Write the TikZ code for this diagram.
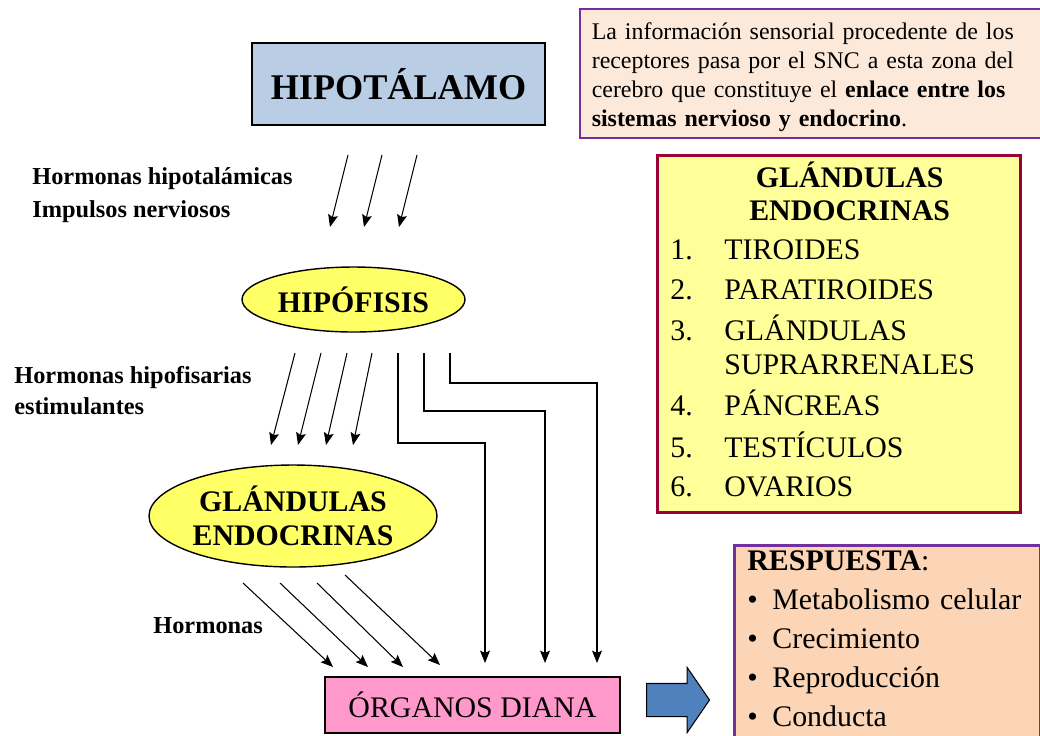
\documentclass[tikz,border=0pt]{standalone}
\usepackage{fontspec}
\setmainfont{Liberation Serif}
\usepackage{tikz}
\usetikzlibrary{shapes,arrows.meta,positioning,calc}

\definecolor{azulclaro}{HTML}{B9CDE5}
\definecolor{azulflecha}{HTML}{4F81BD}
\definecolor{amarillo}{HTML}{FFFF66}
\definecolor{amarillopalido}{HTML}{FFFF99}
\definecolor{granate}{HTML}{9C0036}
\definecolor{morado}{HTML}{7030A0}
\definecolor{salmon}{HTML}{FDE9D9}
\definecolor{melocoton}{HTML}{FBD5B5}
\definecolor{rosa}{HTML}{FF99CC}

\begin{document}
\begin{tikzpicture}[
    x=0.02cm, y=-0.02cm,
    caja/.style={rectangle, draw, line width=0.9pt, inner sep=0pt},
    glandula/.style={ellipse, draw, line width=0.8pt, fill=amarillo, inner sep=0pt,
        align=center, font=\fontsize{17}{19.3}\selectfont\bfseries},
    etiqueta/.style={anchor=base west, align=left, inner sep=0pt,
        font=\fontsize{13.85}{18.7}\selectfont\bfseries},
    flecha/.style={-{Stealth[length=7pt,width=5.6pt,inset=1.2pt]}, line width=0.6pt}
]
    \useasboundingbox (0,0) rectangle (1040,735);

    % cajas y elipses
    \node[caja, fill=azulclaro, minimum width=5.86cm, minimum height=1.64cm,
        font=\fontsize{20.6}{24}\selectfont\bfseries] (hipotalamo) at (398.5,84) {HIPOTÁLAMO};
    \node[caja, draw=morado, fill=salmon, anchor=north west, text width=8.8cm, inner xsep=0.24cm,
        minimum height=2.58cm, align=left, font=\fontsize{13.6}{16.5}\selectfont] (info) at (579,8)
        {\rule{0pt}{14pt}La información sensorial procedente de los\\ receptores pasa por el SNC a esta zona del\\
         cerebro que constituye el \textbf{enlace entre los}\\ \textbf{sistemas nervioso y endocrino}.};
    \node[glandula, minimum width=4.46cm, minimum height=1.3cm] (hipofisis) at (353.5,299.5) {HIPÓFISIS};
    \node[glandula, minimum width=5.76cm, minimum height=2.04cm] (glandulas) at (293,516) {GLÁNDULAS\\ENDOCRINAS};
    \node[caja, fill=rosa, minimum width=5.9cm, minimum height=1.12cm,
        font=\fontsize{17}{19}\selectfont] (organos) at (472.5,705) {ÓRGANOS DIANA};

    \node[caja, draw=granate, line width=1.6pt, fill=amarillopalido, anchor=north west,
        text width=6.74cm, inner xsep=0.26cm, inner ysep=3.4pt, align=left,
        font=\fontsize{17}{19}\selectfont] (lista) at (656,154)
        {\noindent\begin{tabular}{@{}p{1.08cm}@{}l@{}}
          & \multicolumn{1}{c}{\textbf{GLÁNDULAS}}\\[0pt]
          & \multicolumn{1}{c}{\textbf{ENDOCRINAS}}\\[3.4pt]
          1. & TIROIDES\\[3.4pt]
          2. & PARATIROIDES\\[3.4pt]
          3. & GLÁNDULAS\\
             & SUPRARRENALES\\[3.4pt]
          4. & PÁNCREAS\\[3.4pt]
          5. & TESTÍCULOS\\[3.4pt]
          6. & OVARIOS
        \end{tabular}};

    \node[caja, draw=morado, line width=1.6pt, fill=melocoton, anchor=north west,
        text width=5.6cm, inner xsep=0.26cm, inner ysep=3pt, align=left,
        font=\fontsize{17}{22.2}\selectfont] (respuesta) at (733,544)
        {\textbf{RESPUESTA}:\\
         \makebox[0.5cm][l]{\textbullet}Metabolismo celular\\
         \makebox[0.5cm][l]{\textbullet}Crecimiento\\
         \makebox[0.5cm][l]{\textbullet}Reproducción\\
         \makebox[0.5cm][l]{\textbullet}Conducta\rule[-30pt]{0pt}{0pt}};

    \node[single arrow, draw, fill=azulflecha, line width=0.6pt, anchor=tail,
        minimum height=1.26cm, minimum width=1.28cm, inner xsep=0pt, inner ysep=0.32cm,
        single arrow head extend=0.32cm, single arrow tip angle=111] (avance) at (646,700) {};

    % etiquetas
    \node[etiqueta] (etqhipot) at (32,217) {Hormonas hipotalámicas\\Impulsos nerviosos};
    \node[etiqueta, font=\fontsize{13.85}{17.6}\selectfont\bfseries] (etqhipof) at (14,414) {Hormonas hipofisarias\\estimulantes};
    \node[etiqueta] (etqhorm) at (153,633) {Hormonas};

    % flechas
    \foreach \i/\x in {1/348,2/382,3/417}{
        \coordinate (h\i) at (\x,155);
        \coordinate (k\i) at (\x-18,227);
        \draw[flecha] (h\i) -- (k\i);
    }
    \foreach \i/\a/\b in {1/295/271,2/321/298,3/347/326,4/372/353}{
        \coordinate (s\i) at (\a,353);
        \coordinate (e\i) at (\b,445);
        \draw[flecha] (s\i) -- (e\i);
    }
    \foreach \i/\a/\m/\b in {1/398/443/485,2/424/411/545,3/450/383/597}{
        \coordinate (v\i) at (\a,353);
        \coordinate (w\i) at (\b,663);
        \draw[flecha] (v\i) |- (\b,\m) -- (w\i);
    }
    \foreach \i/\a/\c/\b/\d in {1/243/583/333/667,2/280/583/368/667,3/317/583/403/667,4/345/575/440/665}{
        \coordinate (d\i) at (\a,\c);
        \coordinate (f\i) at (\b,\d);
        \draw[flecha] (d\i) -- (f\i);
    }
\end{tikzpicture}
\end{document}
